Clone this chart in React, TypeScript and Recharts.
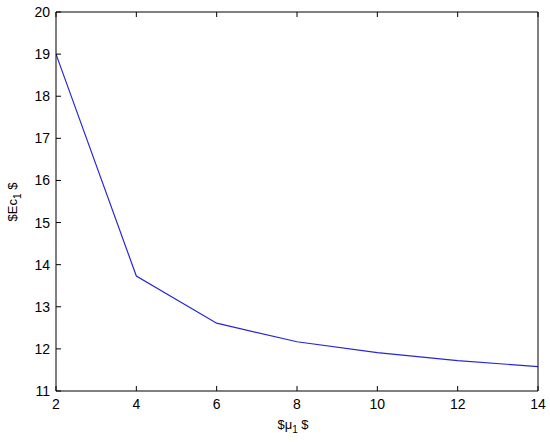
import { LineChart, Line, XAxis, YAxis } from "recharts";

const MU = [2, 4, 6, 8, 10, 12, 14];
const EC = [19.0, 13.73, 12.61, 12.17, 11.91, 11.72, 11.58];

const X_TICKS = [2, 4, 6, 8, 10, 12, 14];
const Y_TICKS = [11, 12, 13, 14, 15, 16, 17, 18, 19, 20];

const data = MU.map((mu, i) => ({ mu, ec: EC[i] }));

const FONT = "'Liberation Sans', Arial, sans-serif";
const TICK_LEN = 5;

const BottomTick = (props: any) => {
    const { x, y, payload } = props;
    return (
        <g>
            <line x1={x} y1={y} x2={x} y2={y - TICK_LEN} stroke="#000" />
            <text x={x} y={y + 18} textAnchor="middle" fontSize={14} fontFamily={FONT} fill="#000">
                {payload.value}
            </text>
        </g>
    );
};

const TopTick = (props: any) => {
    const { x, y } = props;
    return <line x1={x} y1={y} x2={x} y2={y + TICK_LEN} stroke="#000" />;
};

const LeftTick = (props: any) => {
    const { x, y, payload } = props;
    return (
        <g>
            <line x1={x} y1={y} x2={x + TICK_LEN} y2={y} stroke="#000" />
            <text x={x - 6} y={y + 5} textAnchor="end" fontSize={14} fontFamily={FONT} fill="#000">
                {payload.value}
            </text>
        </g>
    );
};

const RightTick = (props: any) => {
    const { x, y } = props;
    return <line x1={x} y1={y} x2={x - TICK_LEN} y2={y} stroke="#000" />;
};

const XLabel = () => (
    <text x={293} y={429} textAnchor="middle" fontSize={13} fontFamily={FONT} fill="#000">
        $μ<tspan fontSize={10} dy={4}>1</tspan>
        <tspan dy={-4}> $</tspan>
    </text>
);

const YLabel = () => (
    <text
        x={0}
        y={0}
        transform="translate(17, 202) rotate(-90)"
        textAnchor="middle"
        fontSize={13}
        fontFamily={FONT}
        fill="#000"
    >
        $Ec<tspan fontSize={10} dy={4}>1</tspan>
        <tspan dy={-4}> $</tspan>
    </text>
);

export default function App() {
    return (
        <div style={{ position: "absolute", left: 0, top: 0, background: "#fff" }}>
            <LineChart
                width={550}
                height={442}
                data={data}
                margin={{ top: 0, right: 0, bottom: 0, left: 0 }}
            >
                <XAxis
                    xAxisId="bottom"
                    dataKey="mu"
                    type="number"
                    domain={[2, 14]}
                    ticks={X_TICKS}
                    height={51}
                    tickSize={0}
                    tickMargin={0}
                    tickLine={false}
                    tick={BottomTick}
                    axisLine={{ stroke: "#000" }}
                    label={{ content: () => <XLabel /> }}
                    allowDataOverflow
                />
                <XAxis
                    xAxisId="top"
                    orientation="top"
                    dataKey="mu"
                    type="number"
                    domain={[2, 14]}
                    ticks={X_TICKS}
                    height={12}
                    tickSize={0}
                    tickMargin={0}
                    tickLine={false}
                    tick={TopTick}
                    axisLine={{ stroke: "#000" }}
                />
                <YAxis
                    yAxisId="left"
                    type="number"
                    domain={[11, 20]}
                    ticks={Y_TICKS}
                    width={56}
                    tickSize={0}
                    tickMargin={0}
                    tickLine={false}
                    tick={LeftTick}
                    axisLine={{ stroke: "#000" }}
                    label={{ content: () => <YLabel /> }}
                    allowDataOverflow
                />
                <YAxis
                    yAxisId="right"
                    orientation="right"
                    type="number"
                    domain={[11, 20]}
                    ticks={Y_TICKS}
                    width={12}
                    tickSize={0}
                    tickMargin={0}
                    tickLine={false}
                    tick={RightTick}
                    axisLine={{ stroke: "#000" }}
                />
                <Line
                    xAxisId="bottom"
                    yAxisId="left"
                    type="linear"
                    dataKey="ec"
                    stroke="#2626d4"
                    strokeWidth={1.2}
                    dot={false}
                    isAnimationActive={false}
                />
            </LineChart>
        </div>
    );
}
